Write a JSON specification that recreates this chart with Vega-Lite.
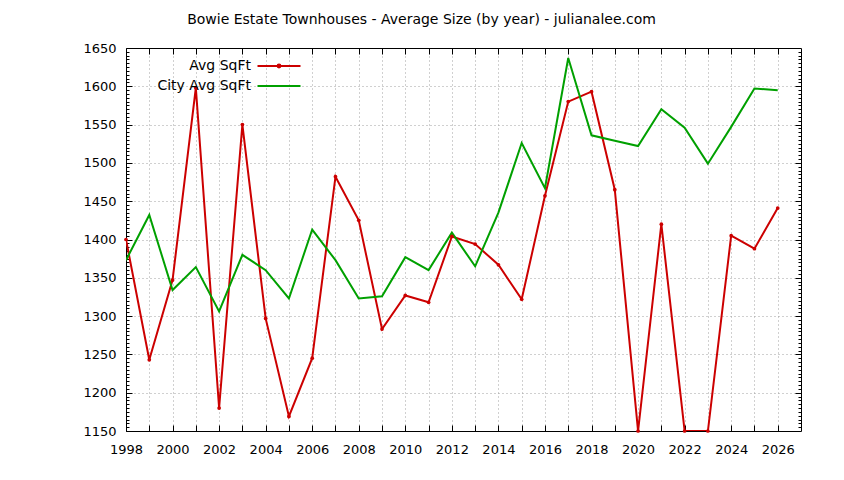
{
  "$schema": "https://vega.github.io/schema/vega-lite/v6.json",
  "width": 675,
  "height": 383,
  "autosize": {"type": "none"},
  "padding": {"left": 126, "top": 48, "right": 43, "bottom": 49},
  "background": "white",
  "title": {
    "text": "Bowie Estate Townhouses - Average Size (by year) - julianalee.com",
    "anchor": "middle",
    "frame": "group",
    "dx": -42,
    "offset": 15,
    "fontSize": 14,
    "fontWeight": "normal",
    "font": "DejaVu Sans",
    "color": "#000000"
  },
  "config": {
    "font": "DejaVu Sans",
    "view": {"stroke": null},
    "axis": {
      "labelFont": "DejaVu Sans",
      "labelFontSize": 13,
      "labelColor": "#000000",
      "domainColor": "#000000",
      "domainWidth": 1,
      "tickColor": "#000000",
      "tickWidth": 1,
      "gridColor": "#a0a0a0",
      "gridDash": [1, 3],
      "gridWidth": 1,
      "title": null
    }
  },
  "data": {
    "values": [
      {"year": 1998, "series": "Avg SqFt", "sqft": 1400},
      {"year": 1999, "series": "Avg SqFt", "sqft": 1243},
      {"year": 2000, "series": "Avg SqFt", "sqft": 1347},
      {"year": 2001, "series": "Avg SqFt", "sqft": 1598},
      {"year": 2002, "series": "Avg SqFt", "sqft": 1180},
      {"year": 2003, "series": "Avg SqFt", "sqft": 1550},
      {"year": 2004, "series": "Avg SqFt", "sqft": 1297},
      {"year": 2005, "series": "Avg SqFt", "sqft": 1169},
      {"year": 2006, "series": "Avg SqFt", "sqft": 1245},
      {"year": 2007, "series": "Avg SqFt", "sqft": 1482},
      {"year": 2008, "series": "Avg SqFt", "sqft": 1425},
      {"year": 2009, "series": "Avg SqFt", "sqft": 1283},
      {"year": 2010, "series": "Avg SqFt", "sqft": 1327},
      {"year": 2011, "series": "Avg SqFt", "sqft": 1318},
      {"year": 2012, "series": "Avg SqFt", "sqft": 1404},
      {"year": 2013, "series": "Avg SqFt", "sqft": 1394},
      {"year": 2014, "series": "Avg SqFt", "sqft": 1367},
      {"year": 2015, "series": "Avg SqFt", "sqft": 1322},
      {"year": 2016, "series": "Avg SqFt", "sqft": 1457},
      {"year": 2017, "series": "Avg SqFt", "sqft": 1580},
      {"year": 2018, "series": "Avg SqFt", "sqft": 1593},
      {"year": 2019, "series": "Avg SqFt", "sqft": 1465},
      {"year": 2020, "series": "Avg SqFt", "sqft": 1150},
      {"year": 2021, "series": "Avg SqFt", "sqft": 1420},
      {"year": 2022, "series": "Avg SqFt", "sqft": 1150},
      {"year": 2023, "series": "Avg SqFt", "sqft": 1150},
      {"year": 2024, "series": "Avg SqFt", "sqft": 1405},
      {"year": 2025, "series": "Avg SqFt", "sqft": 1388},
      {"year": 2026, "series": "Avg SqFt", "sqft": 1441},
      {"year": 1998, "series": "City Avg SqFt", "sqft": 1373},
      {"year": 1999, "series": "City Avg SqFt", "sqft": 1432},
      {"year": 2000, "series": "City Avg SqFt", "sqft": 1334},
      {"year": 2001, "series": "City Avg SqFt", "sqft": 1364},
      {"year": 2002, "series": "City Avg SqFt", "sqft": 1306},
      {"year": 2003, "series": "City Avg SqFt", "sqft": 1380},
      {"year": 2004, "series": "City Avg SqFt", "sqft": 1360},
      {"year": 2005, "series": "City Avg SqFt", "sqft": 1323},
      {"year": 2006, "series": "City Avg SqFt", "sqft": 1413},
      {"year": 2007, "series": "City Avg SqFt", "sqft": 1373},
      {"year": 2008, "series": "City Avg SqFt", "sqft": 1323},
      {"year": 2009, "series": "City Avg SqFt", "sqft": 1326},
      {"year": 2010, "series": "City Avg SqFt", "sqft": 1377},
      {"year": 2011, "series": "City Avg SqFt", "sqft": 1360},
      {"year": 2012, "series": "City Avg SqFt", "sqft": 1409},
      {"year": 2013, "series": "City Avg SqFt", "sqft": 1365},
      {"year": 2014, "series": "City Avg SqFt", "sqft": 1435},
      {"year": 2015, "series": "City Avg SqFt", "sqft": 1526},
      {"year": 2016, "series": "City Avg SqFt", "sqft": 1467},
      {"year": 2017, "series": "City Avg SqFt", "sqft": 1637},
      {"year": 2018, "series": "City Avg SqFt", "sqft": 1536},
      {"year": 2019, "series": "City Avg SqFt", "sqft": 1529},
      {"year": 2020, "series": "City Avg SqFt", "sqft": 1522},
      {"year": 2021, "series": "City Avg SqFt", "sqft": 1570},
      {"year": 2022, "series": "City Avg SqFt", "sqft": 1546},
      {"year": 2023, "series": "City Avg SqFt", "sqft": 1499},
      {"year": 2024, "series": "City Avg SqFt", "sqft": 1547},
      {"year": 2025, "series": "City Avg SqFt", "sqft": 1597},
      {"year": 2026, "series": "City Avg SqFt", "sqft": 1595}
    ]
  },
  "resolve": {"axis": {"x": "independent", "y": "independent"}},
  "layer": [
    {
      "mark": {"type": "line", "strokeWidth": 2, "clip": true},
      "encoding": {
        "x": {
          "field": "year", "type": "quantitative",
          "scale": {"domain": [1998, 2027], "nice": false, "zero": false},
          "axis": {
            "orient": "bottom",
            "values": [1998,1999,2000,2001,2002,2003,2004,2005,2006,2007,2008,2009,2010,2011,2012,2013,2014,2015,2016,2017,2018,2019,2020,2021,2022,2023,2024,2025,2026],
            "labelExpr": "datum.value % 2 == 0 ? datum.value : ''",
            "format": "d",
            "grid": true,
            "tickSize": -6,
            "labelPadding": 18,
            "labelFlush": false,
            "labelOverlap": false
          }
        },
        "y": {
          "field": "sqft", "type": "quantitative",
          "scale": {"domain": [1150, 1650], "nice": false, "zero": false},
          "axis": {
            "orient": "left",
            "values": [1150,1200,1250,1300,1350,1400,1450,1500,1550,1600,1650],
            "format": "d",
            "grid": true,
            "tickSize": -6,
            "labelPadding": 16,
            "labelOverlap": false
          }
        },
        "color": {
          "field": "series", "type": "nominal",
          "scale": {"domain": ["Avg SqFt", "City Avg SqFt"], "range": ["#cc0000", "#00a000"]},
          "legend": {
            "orient": "none",
            "legendX": 142,
            "legendY": 7,
            "title": null,
            "padding": 0,
            "symbolType": "M-2.15,0H2.15",
            "symbolSize": 400,
            "symbolStrokeWidth": 2,
            "labelAlign": "right",
            "labelOffset": -39,
            "labelFontSize": 14,
            "labelFont": "DejaVu Sans",
            "labelColor": "#000000",
            "rowPadding": 2,
            "encode": {
              "symbols": {
                "update": {
                  "shape": {"signal": "datum.value == 'Avg SqFt' ? 'M-2.15,0H2.15M-0.14,0A0.14,0.14 0 1,0 0.14,0A0.14,0.14 0 1,0 -0.14,0' : 'M-2.15,0H2.15'"}
                }
              }
            }
          }
        }
      }
    },
    {
      "transform": [{"filter": "datum.series == 'Avg SqFt'"}],
      "mark": {"type": "point", "filled": true, "size": 14, "color": "#cc0000", "opacity": 1},
      "encoding": {
        "x": {"field": "year", "type": "quantitative", "axis": null},
        "y": {"field": "sqft", "type": "quantitative", "axis": null}
      }
    },
    {
      "mark": {"type": "point", "opacity": 0},
      "encoding": {
        "x": {
          "field": "year", "type": "quantitative",
          "axis": {
            "orient": "top",
            "values": [1999,2000,2001,2002,2003,2004,2005,2006,2007,2008,2009,2010,2011,2012,2013,2014,2015,2016,2017,2018,2019,2020,2021,2022,2023,2024,2025,2026],
            "labels": false, "grid": false, "tickSize": -6
          }
        },
        "y": {
          "field": "sqft", "type": "quantitative",
          "axis": {
            "orient": "right",
            "values": [1200,1250,1300,1350,1400,1450,1500,1550,1600],
            "labels": false, "grid": false, "tickSize": -6
          }
        }
      }
    },
    {
      "mark": {"type": "point", "opacity": 0},
      "encoding": {
        "y": {
          "field": "sqft", "type": "quantitative",
          "axis": {
            "orient": "left",
            "values": [1155,1160,1165,1170,1175,1180,1185,1190,1195,1205,1210,1215,1220,1225,1230,1235,1240,1245,1255,1260,1265,1270,1275,1280,1285,1290,1295,1305,1310,1315,1320,1325,1330,1335,1340,1345,1355,1360,1365,1370,1375,1380,1385,1390,1395,1405,1410,1415,1420,1425,1430,1435,1440,1445,1455,1460,1465,1470,1475,1480,1485,1490,1495,1505,1510,1515,1520,1525,1530,1535,1540,1545,1555,1560,1565,1570,1575,1580,1585,1590,1595,1605,1610,1615,1620,1625,1630,1635,1640,1645],
            "labels": false, "grid": false, "domain": false, "tickSize": -3
          }
        }
      }
    },
    {
      "mark": {"type": "point", "opacity": 0},
      "encoding": {
        "y": {
          "field": "sqft", "type": "quantitative",
          "axis": {
            "orient": "right",
            "values": [1155,1160,1165,1170,1175,1180,1185,1190,1195,1205,1210,1215,1220,1225,1230,1235,1240,1245,1255,1260,1265,1270,1275,1280,1285,1290,1295,1305,1310,1315,1320,1325,1330,1335,1340,1345,1355,1360,1365,1370,1375,1380,1385,1390,1395,1405,1410,1415,1420,1425,1430,1435,1440,1445,1455,1460,1465,1470,1475,1480,1485,1490,1495,1505,1510,1515,1520,1525,1530,1535,1540,1545,1555,1560,1565,1570,1575,1580,1585,1590,1595,1605,1610,1615,1620,1625,1630,1635,1640,1645],
            "labels": false, "grid": false, "domain": false, "tickSize": -3
          }
        }
      }
    }
  ]
}
